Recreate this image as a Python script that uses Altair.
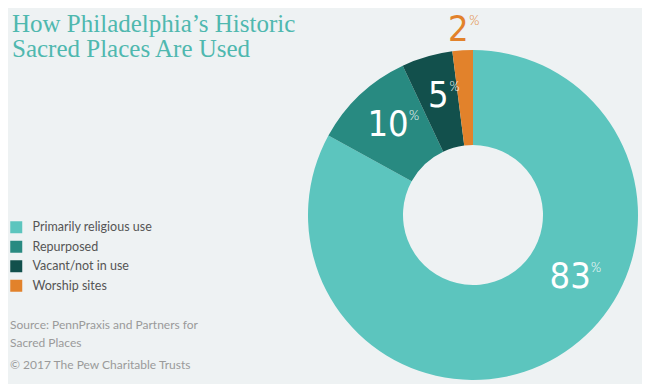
import altair as alt
import pandas as pd

# ---- data ----
categories = ["Primarily religious use", "Repurposed", "Vacant/not in use", "Worship sites"]
values = [83, 10, 5, 2]
value_labels = ["83", "10", "5", "2"]
title_lines = ["How Philadelphia\u2019s Historic", "Sacred Places Are Used"]
source_lines = ["Source: PennPraxis and Partners for", "Sacred Places"]
copyright_line = "\u00a9 2017 The Pew Charitable Trusts"

palette = ["#5cc5be", "#288a81", "#12504c", "#e2822b"]
BG = "#eef2f3"
CX, CY = 465, 207
NUM_FONT = "DejaVu Sans Condensed, Liberation Sans Narrow, sans-serif"
TXT_FONT = "Lato, Open Sans, sans-serif"

df = pd.DataFrame({"category": categories, "value": values,
                   "label": value_labels, "idx": list(range(len(categories)))})

base = alt.Chart(df).encode(
    theta=alt.Theta("value:Q", stack=True),
    order=alt.Order("idx:Q"),
    x=alt.value(CX), y=alt.value(CY),
)

arc = base.mark_arc(outerRadius=165, innerRadius=70).encode(
    color=alt.Color("category:N", sort=categories,
                    scale=alt.Scale(domain=categories, range=palette),
                    legend=alt.Legend(orient="none", legendX=2, legendY=213,
                                      title=None, symbolType="square", symbolSize=144,
                                      symbolStrokeWidth=0, symbolOffset=0,
                                      labelFont=TXT_FONT, labelFontSize=12.5, labelColor="#555555",
                                      labelOffset=10, rowPadding=6.5, padding=0))
)

# per-label placement: (radius, dx, dy, pct_dx, pct_dy, color)
place = {
    "Primarily religious use": (124, 34, -45, 21, -9, "white"),
    "Repurposed": (124, 0, 0, 21, -9, "white"),
    "Vacant/not in use": (124, 0, 0, 11, -9, "white"),
    "Worship sites": (187, -3, 2, 11, -9, "#e2822b"),
}

layers = [arc]
for cat in categories:
    r, dx, dy, pdx, pdy, col = place[cat]
    num = base.mark_text(radius=r, dx=dx, dy=dy, font=NUM_FONT, fontSize=36,
                         fontWeight="normal", color=col, baseline="middle",
                         align="center").encode(
        text=alt.condition(alt.datum.category == cat, "label:N", alt.value(""))
    )
    pct = base.mark_text(radius=r, dx=dx + pdx, dy=dy + pdy, font=TXT_FONT, fontSize=13,
                         fontWeight=300, color=col, baseline="middle", align="left").encode(
        text=alt.condition(alt.datum.category == cat, alt.value("%"), alt.value(""))
    )
    layers += [num, pct]

blank = alt.Chart(pd.DataFrame({"a": [0]}))
title = blank.mark_text(text=title_lines, font="Liberation Serif, DejaVu Serif, serif",
                        fontSize=25, color="#4fb8af", align="left", baseline="alphabetic",
                        lineHeight=25).encode(x=alt.value(4), y=alt.value(24))
source = blank.mark_text(text=source_lines, font=TXT_FONT, fontSize=12, color="#9a9a9a",
                         align="left", baseline="alphabetic", lineHeight=18).encode(
    x=alt.value(2), y=alt.value(321))
copy = blank.mark_text(text=copyright_line, font=TXT_FONT, fontSize=12, color="#9a9a9a",
                       align="left", baseline="alphabetic").encode(
    x=alt.value(2), y=alt.value(361))

layers += [title, source, copy]

chart = alt.layer(*layers).properties(
    width=634, height=376,
    autosize=alt.AutoSizeParams(type="none"),
    padding=0,
    background=BG,
).configure_view(stroke=None)

chart.save("out.html", embed_options={"renderer": "svg", "actions": False})
